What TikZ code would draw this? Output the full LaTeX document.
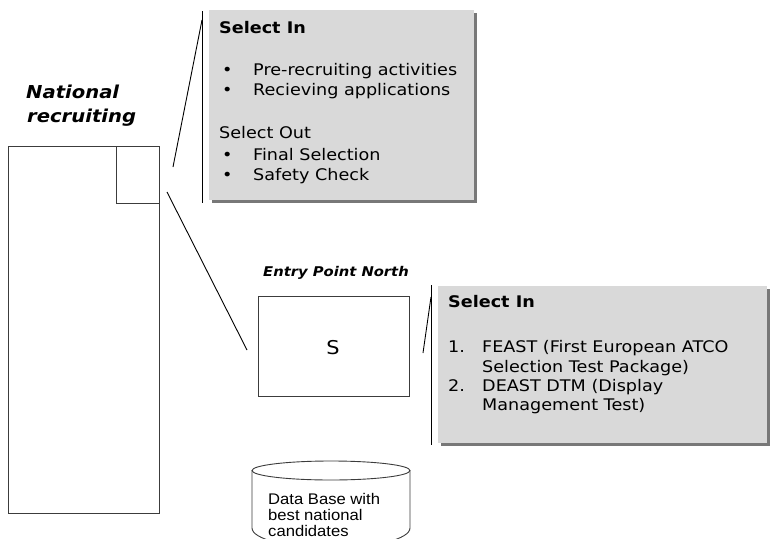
\documentclass[tikz,border=0pt]{standalone}
\usepackage{fontspec}
\setmainfont{DejaVu Sans}[FakeStretch=1.1]
\newfontfamily\dbfont{Liberation Sans}[FakeStretch=1.08]
\usetikzlibrary{shadows}

\definecolor{panelgrey}{RGB}{217,217,217}
\definecolor{shadegrey}{RGB}{120,120,120}
\definecolor{edgegrey}{RGB}{60,60,60}

\begin{document}
\begin{tikzpicture}[x=1pt,y=-1pt,
  outline/.style={draw=edgegrey, line width=0.9pt},
  callout/.style={draw=black, line width=0.9pt},
  panel/.style={fill=panelgrey, draw=none, inner sep=0pt, outer sep=0pt,
    general shadow={fill=shadegrey, shadow xshift=3pt, shadow yshift=-3pt}},
  frame/.style={outline, inner sep=0pt, outer sep=0pt},
  txt/.style={anchor=base west, inner sep=0pt, font=\fontsize{16}{20}\selectfont},
  head/.style={txt, font=\fontsize{16}{20}\selectfont\bfseries},
  title/.style={anchor=base west, inner sep=0pt, font=\fontsize{17.8}{24}\selectfont\bfseries\itshape},
  dbtxt/.style={anchor=base west, inner sep=0pt, font=\dbfont\fontsize{15.4}{16}\selectfont}
]
\useasboundingbox (0,0) rectangle (771,546);

% National recruiting column with its highlighted corner
\node[title] (natA) at (26,98) {National};
\node[title] (natB) at (27,122) {recruiting};
\node[frame, minimum width=151pt, minimum height=367pt] (column) at (83.5,329.5) {};
\node[frame, minimum width=43pt, minimum height=57pt] (corner) at (137.5,174.5) {};

% First panel: national selection steps
\node[panel, minimum width=265pt, minimum height=190pt] (panelA) at (341.5,105) {};
\node[head] (aIn) at (219,33) {Select In};
\node[txt] (aB1) at (222,75) {•};
\node[txt] (aT1) at (253,75) {Pre-recruiting activities};
\node[txt] (aB2) at (222,95) {•};
\node[txt] (aT2) at (253,95) {Recieving applications};
\node[txt] (aOut) at (219,138) {Select Out};
\node[txt] (aB3) at (222,160) {•};
\node[txt] (aT3) at (253,160) {Final Selection};
\node[txt] (aB4) at (222,180) {•};
\node[txt] (aT4) at (253,180) {Safety Check};

% Entry Point North box
\node[anchor=base, inner sep=0pt, font=\fontsize{13.4}{16}\selectfont\bfseries\itshape] (epn) at (336,276) {Entry Point North};
\node[frame, minimum width=151pt, minimum height=100pt] (sbox) at (333.5,346) {};
\node[anchor=base, inner sep=0pt, font=\fontsize{19}{22}\selectfont] (slabel) at (333,354) {S};

% Second panel: tests at Entry Point North
\node[panel, minimum width=329pt, minimum height=157pt] (panelB) at (602.5,364.5) {};
\node[head] (bIn) at (448,307) {Select In};
\node[txt] (bN1) at (448,352) {1.};
\node[txt] (bT1) at (482,352) {FEAST (First European ATCO};
\node[txt] (bT1b) at (482,372) {Selection Test Package)};
\node[txt] (bN2) at (448,391) {2.};
\node[txt] (bT2) at (482,391) {DEAST DTM (Display};
\node[txt] (bT2b) at (482,410) {Management Test)};

% Database cylinder, cut off at the lower edge
\begin{scope}
  \clip (240,450) rectangle (430,538);
  \draw[outline] (252,470.5) -- (252,528)
    arc[start angle=180, end angle=360, x radius=79pt, y radius=20pt] -- (410,470.5);
\end{scope}
\draw[outline] (331,470.5) ellipse [x radius=79pt, y radius=9.5pt];
\node[dbtxt] (db1) at (268,504) {Data Base with};
\node[dbtxt] (db2) at (268,520) {best national};
\node[dbtxt] (db3) at (268,536) {candidates};

% Callout lines
\coordinate (c1s) at (173,167);
\coordinate (c1e) at (202,20);
\coordinate (v1t) at (202,11);
\coordinate (v1b) at (202,203);
\coordinate (c2s) at (167,192);
\coordinate (c2e) at (247,350);
\coordinate (c3s) at (423,353);
\coordinate (c3e) at (431,297);
\coordinate (v3t) at (431,285);
\coordinate (v3b) at (431,445);
\draw[callout] (c1s) -- (c1e);
\draw[callout] (v1t) -- (v1b);
\draw[callout] (c2s) -- (c2e);
\draw[callout] (c3s) -- (c3e);
\draw[callout] (v3t) -- (v3b);
\end{tikzpicture}
\end{document}
